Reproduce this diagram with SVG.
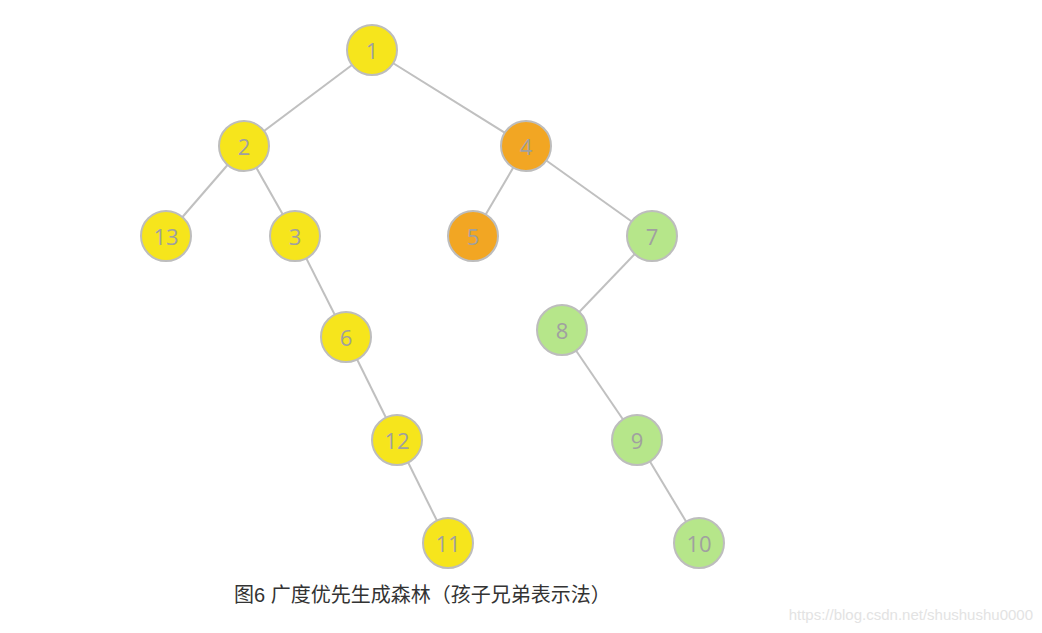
<svg xmlns="http://www.w3.org/2000/svg" width="1042" height="633" viewBox="0 0 1042 633">
<style>
circle{stroke:#bdbdbd;stroke-width:2}
.y{fill:#f6e51c}.o{fill:#f2a623}.g{fill:#b6e68a}
.n text{font-family:"Open Sans","Liberation Sans",sans-serif;font-size:22px;fill:#a0a0a0;text-anchor:middle;dominant-baseline:central}
#edges line{stroke:#c0c0c0;stroke-width:2}
</style>
<rect width="1042" height="633" fill="#fff"/>
<g id="edges">
<line x1="372" y1="50" x2="244" y2="146"/><line x1="372" y1="50" x2="526" y2="146"/>
<line x1="244" y1="146" x2="166" y2="236"/><line x1="244" y1="146" x2="295" y2="236"/>
<line x1="526" y1="146" x2="473" y2="236"/><line x1="526" y1="146" x2="652" y2="236"/>
<line x1="295" y1="236" x2="346" y2="337"/><line x1="346" y1="337" x2="397" y2="440"/>
<line x1="397" y1="440" x2="448" y2="543"/><line x1="652" y1="236" x2="562" y2="330"/>
<line x1="562" y1="330" x2="637" y2="440"/><line x1="637" y1="440" x2="699" y2="543"/>
</g>
<g id="n1" class="n"><circle class="y" cx="372" cy="50" r="25"/><text x="372" y="50">1</text></g>
<g id="n2" class="n"><circle class="y" cx="244" cy="146" r="25"/><text x="244" y="146">2</text></g>
<g id="n4" class="n"><circle class="o" cx="526" cy="146" r="25"/><text x="526" y="146">4</text></g>
<g id="n13" class="n"><circle class="y" cx="166" cy="236" r="25"/><text x="166" y="236">13</text></g>
<g id="n3" class="n"><circle class="y" cx="295" cy="236" r="25"/><text x="295" y="236">3</text></g>
<g id="n5" class="n"><circle class="o" cx="473" cy="236" r="25"/><text x="473" y="236">5</text></g>
<g id="n7" class="n"><circle class="g" cx="652" cy="236" r="25"/><text x="652" y="236">7</text></g>
<g id="n6" class="n"><circle class="y" cx="346" cy="337" r="25"/><text x="346" y="337">6</text></g>
<g id="n8" class="n"><circle class="g" cx="562" cy="330" r="25"/><text x="562" y="330">8</text></g>
<g id="n12" class="n"><circle class="y" cx="397" cy="440" r="25"/><text x="397" y="440">12</text></g>
<g id="n9" class="n"><circle class="g" cx="637" cy="440" r="25"/><text x="637" y="440">9</text></g>
<g id="n11" class="n"><circle class="y" cx="448" cy="543" r="25"/><text x="448" y="543">11</text></g>
<g id="n10" class="n"><circle class="g" cx="699" cy="543" r="25"/><text x="699" y="543">10</text></g>
<text x="234" y="602" font-family="'Liberation Sans','Noto Sans CJK SC',sans-serif" font-size="20" fill="#333">图6 广度优先生成森林（孩子兄弟表示法）</text>
<text x="1033" y="620" text-anchor="end" font-family="'Liberation Sans',sans-serif" font-size="15" fill="#e3e3e3">https://blog.csdn.net/shushushu0000</text>
</svg>
